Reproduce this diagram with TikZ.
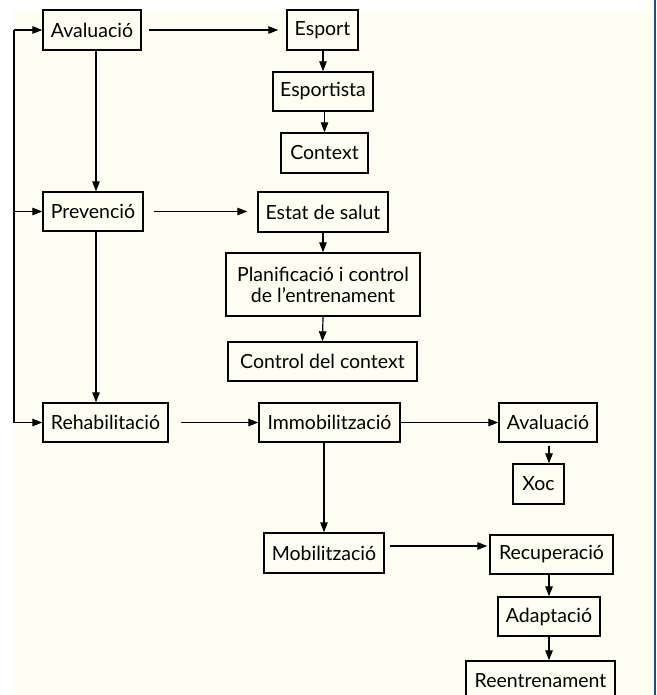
\documentclass[tikz,border=0pt]{standalone}
\usepackage{fontspec}
\setmainfont{Lato}
\usetikzlibrary{arrows.meta}
\definecolor{cream}{HTML}{FEFEF2}
\definecolor{edgeblue}{HTML}{1F4E8C}
\tikzset{
  bx/.style={draw=black, line width=1.4pt, fill=cream, inner sep=0pt, align=center,
    font=\fontsize{19.5}{21}\selectfont, text=black},
  arr/.style={line width=1.2pt, -{Triangle[length=10pt,width=7.5pt]}},
  ln/.style={line width=1.2pt}
}
\begin{document}
\begin{tikzpicture}[x=1pt,y=-1pt]
\useasboundingbox (0,0) rectangle (656,695);
\fill[white] (0,0) rectangle (656,695);
\fill[cream] (13,10) rectangle (652,695);
\fill[edgeblue] (653.5,0) rectangle (656,695);
\begin{scope}
\clip (0,0) rectangle (656,695);
% nodes
\node[bx, minimum width=98pt, minimum height=40pt] (A1) at (92,30) {Avaluació};
\node[bx, minimum width=71pt, minimum height=40pt] (Esport) at (322.5,30) {Esport};
\node[bx, minimum width=100pt, minimum height=39pt] (Esportista) at (323,91.5) {Esportista};
\node[bx, minimum width=87pt, minimum height=40pt] (Context) at (324.5,153) {Context};
\node[bx, minimum width=100pt, minimum height=39pt] (Prev) at (93,211.5) {Prevenció};
\node[bx, minimum width=130pt, minimum height=40pt] (Estat) at (323,212) {Estat de salut};
\node[bx, minimum width=194pt, minimum height=63pt] (Planif) at (323,284.5) {Planificació i control\\de l’entrenament};
\node[bx, minimum width=189pt, minimum height=39pt] (Control) at (322.5,361.5) {Control del context};
\node[bx, minimum width=125pt, minimum height=39pt] (Rehab) at (105.5,422.5) {Rehabilitació};
\node[bx, minimum width=141pt, minimum height=39pt] (Immob) at (329.5,422.5) {Immobilització};
\node[bx, minimum width=98pt, minimum height=39pt] (A2) at (548,422.5) {Avaluació};
\node[bx, minimum width=51pt, minimum height=40pt] (Xoc) at (538.5,484) {Xoc};
\node[bx, minimum width=120pt, minimum height=40pt] (Mob) at (324,553) {Mobilització};
\node[bx, minimum width=123pt, minimum height=39pt] (Recup) at (551.5,554.5) {Recuperació};
\node[bx, minimum width=102pt, minimum height=39pt] (Adapt) at (549,616.5) {Adaptació};
\node[bx, minimum width=149pt, minimum height=39pt] (Reent) at (540.5,680.5) {Reentrenament};
% left bus
\coordinate (b1) at (14,30);
\coordinate (b3) at (14,422.5);
\draw[ln] (b1) -- (b3);
\draw[arr] (b1) -- (A1.west);
\draw[arr] (b1 |- Prev.west) -- (Prev.west);
\draw[arr] (b3) -- (Rehab.west);
% main column
\draw[arr] ([xshift=4pt]A1.south) -- ([xshift=4pt]A1.south |- Prev.north);
\draw[arr] ([xshift=3pt]Prev.south) -- ([xshift=3pt]Prev.south |- Rehab.north);
% horizontal arrows
\draw[arr, shorten <=7pt, shorten >=8pt] (A1.east) -- (Esport.west);
\draw[arr, shorten <=10pt, shorten >=10pt] (Prev.east) -- (Prev.east -| Estat.west);
\draw[arr, shorten <=12pt] (Rehab.east) -- (Immob.west);
\draw[arr] (Immob.east) -- (A2.west);
\draw[arr, shorten <=5pt, shorten >=2pt] ([yshift=7pt]Mob.east) -- ([yshift=7pt]Mob.east -| Recup.west);
% vertical arrows
\draw[arr] (Esport.south -| Esportista.north) -- (Esportista.north);
\draw[arr] (Esportista.south -| Context.north) -- (Context.north);
\draw[arr] (Estat.south) -- (Planif.north);
\draw[arr] (Planif.south) -- (Control.north);
\draw[arr] (Immob.south -| Mob.north) -- (Mob.north);
\draw[arr, shorten <=3pt] ([xshift=1pt]A2.south) -- ([xshift=1pt]A2.south |- Xoc.north);
\draw[arr] ([xshift=-2.5pt]Recup.south) -- ([xshift=-2.5pt]Recup.south |- Adapt.north);
\draw[arr] (Adapt.south) -- (Adapt.south |- Reent.north);
\end{scope}
\end{tikzpicture}
\end{document}
